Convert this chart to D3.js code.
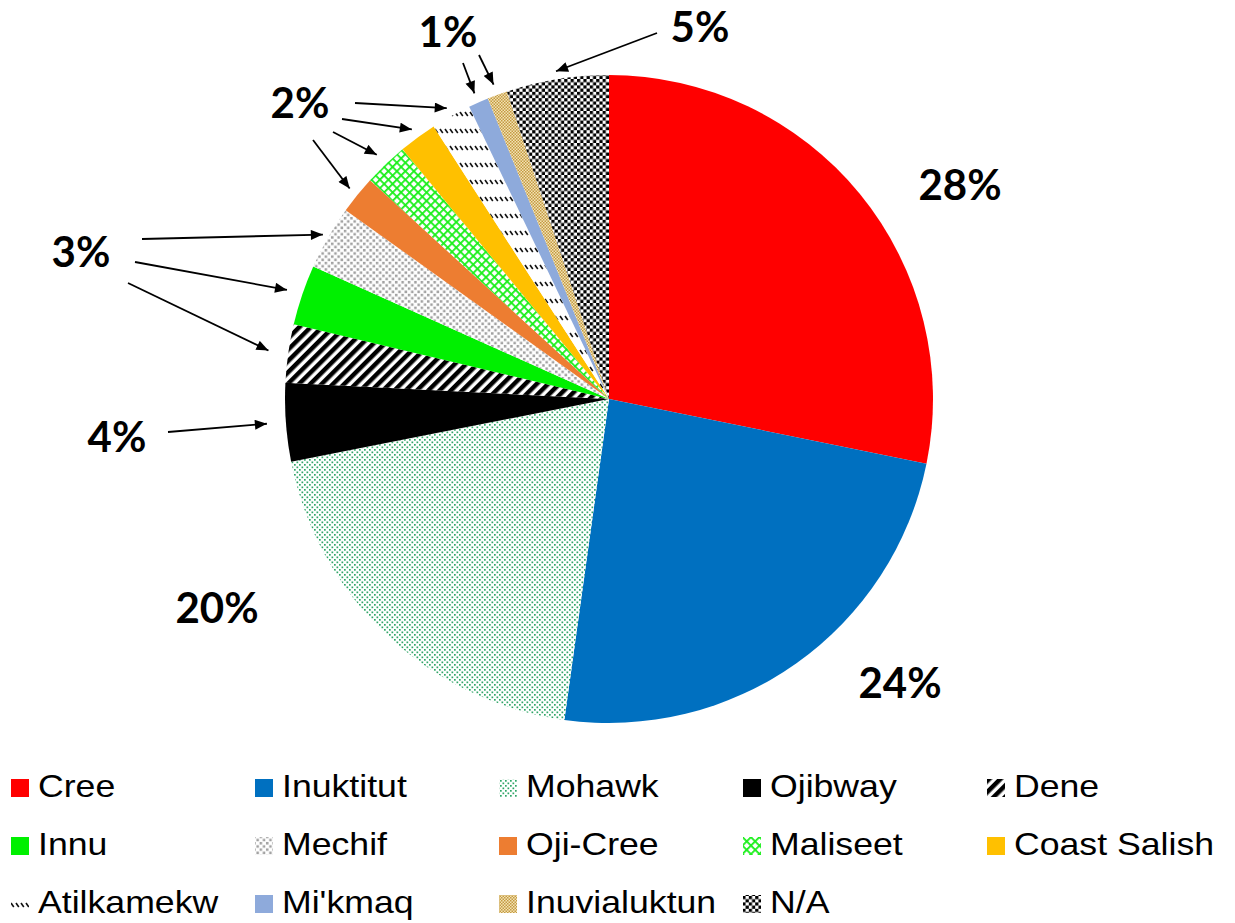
<!DOCTYPE html>
<html>
<head>
<meta charset="utf-8">
<script src="https://cdn.jsdelivr.net/npm/d3@7"></script>
<style>
  html, body { margin: 0; padding: 0; background: #fff; }
  svg { display: block; }
</style>
</head>
<body>
<div id="chart"></div>
<script>
// ---------- data ----------
const categories = ["Cree", "Inuktitut", "Mohawk", "Ojibway", "Dene", "Innu", "Mechif",
  "Oji-Cree", "Maliseet", "Coast Salish", "Atilkamekw", "Mi'kmaq", "Inuvialuktun", "N/A"];
const values = [28.2, 24.0, 19.7, 3.9, 2.9, 3.0, 3.2, 1.9, 2.2, 1.9, 2.0, 1.0, 1.0, 5.1];
const fills = ["#ff0000", "#0070c0", "url(#pMohawk)", "#000000", "url(#pDene)", "#00f000",
  "url(#pMechif)", "#ed7d31", "url(#pMaliseet)", "#ffc000", "url(#pAtil)", "#8eaadb",
  "url(#pInuv)", "url(#pNA)"];
const percentLabels = ["28%", "24%", "20%", "4%", "3%", "2%", "1%", "5%"];

// ---------- layout ----------
const W = 1235, H = 923;
const cx = 609, cy = 399, R = 324;

const svg = d3.select("#chart").append("svg").attr("width", W).attr("height", H);
const defs = svg.append("defs");

// patterns
function pat(id, w, h, transform) {
  const p = defs.append("pattern").attr("id", id).attr("patternUnits", "userSpaceOnUse")
    .attr("width", w).attr("height", h);
  if (transform) p.attr("patternTransform", transform);
  return p;
}
let p;
p = pat("pMohawk", 5, 5);
p.append("rect").attr("width", 5).attr("height", 5).attr("fill", "#fff");
p.append("rect").attr("x", 0).attr("y", 0).attr("width", 1.7).attr("height", 1.7).attr("fill", "#2ea566");
p.append("rect").attr("x", 2.5).attr("y", 2.5).attr("width", 1.7).attr("height", 1.7).attr("fill", "#2ea566");

p = pat("pDene", 8, 8, "rotate(45)");
p.append("rect").attr("width", 8).attr("height", 8).attr("fill", "#fff");
p.append("rect").attr("width", 4.5).attr("height", 8).attr("fill", "#000");

p = pat("pMechif", 6.4, 6.4);
p.append("rect").attr("width", 6.4).attr("height", 6.4).attr("fill", "#fff");
p.append("rect").attr("x", 0.4).attr("y", 0.4).attr("width", 2.5).attr("height", 2.5).attr("fill", "#a0a0a0");
p.append("rect").attr("x", 3.6).attr("y", 3.6).attr("width", 2.5).attr("height", 2.5).attr("fill", "#a0a0a0");

p = pat("pMaliseet", 6, 6, "rotate(45)");
p.append("rect").attr("width", 6).attr("height", 6).attr("fill", "#1aef1a");
p.append("rect").attr("x", 1.8).attr("y", 1.8).attr("width", 4.2).attr("height", 4.2).attr("fill", "#fff");

p = pat("pAtil", 5, 17);
p.append("rect").attr("width", 5).attr("height", 17).attr("fill", "#fff");
p.append("line").attr("x1", 1).attr("y1", 2).attr("x2", 3.8).attr("y2", 6)
  .attr("stroke", "#111").attr("stroke-width", 1.6);

p = pat("pInuv", 3, 3);
p.append("rect").attr("width", 3).attr("height", 3).attr("fill", "#f3e3b4");
p.append("rect").attr("width", 1.5).attr("height", 1.5).attr("fill", "#c49a42");
p.append("rect").attr("x", 1.5).attr("y", 1.5).attr("width", 1.5).attr("height", 1.5).attr("fill", "#c49a42");

p = pat("pNA", 6.4, 6.4);
p.append("rect").attr("width", 6.4).attr("height", 6.4).attr("fill", "#fff");
p.append("rect").attr("width", 3.2).attr("height", 3.2).attr("fill", "#000");
p.append("rect").attr("x", 3.2).attr("y", 3.2).attr("width", 3.2).attr("height", 3.2).attr("fill", "#000");

// arrow head
defs.append("marker").attr("id", "arrow").attr("markerUnits", "userSpaceOnUse")
  .attr("viewBox", "0 0 12 10").attr("refX", 12).attr("refY", 5)
  .attr("markerWidth", 13).attr("markerHeight", 10).attr("orient", "auto")
  .append("path").attr("d", "M0,0 L12,5 L0,10 Z").attr("fill", "#000");

// ---------- pie ----------
const data = categories.map((c, i) => ({ name: c, value: values[i], fill: fills[i] }));
const pie = d3.pie().value(d => d.value).sort(null);
const arcs = pie(data);
const arc = d3.arc().innerRadius(0).outerRadius(R);

const g = svg.append("g").attr("transform", `translate(${cx},${cy})`);
g.selectAll("path.slice").data(arcs).enter().append("path")
  .attr("class", "slice")
  .attr("d", arc)
  .attr("fill", d => d.data.fill);

// ---------- percentage labels (annotation layout) ----------
const labelPos = [[960, 200], [900, 698], [217, 623], [117, 452], [81, 267], [300, 118], [448, 47], [700, 42]];
svg.selectAll("text.pct").data(percentLabels).enter().append("text")
  .attr("class", "pct")
  .attr("x", (d, i) => labelPos[i][0]).attr("y", (d, i) => labelPos[i][1])
  .attr("text-anchor", "middle")
  .attr("font-family", "Lato, 'Open Sans', sans-serif")
  .attr("font-weight", "bold").attr("font-size", 42).attr("fill", "#000")
  .text(d => d);

// ---------- arrows: start point near label, tip just outside the target slice ----------
const arrows = [
  { from: [142, 239], slice: 6, off: 6 },
  { from: [135, 262], slice: 5, off: 16 },
  { from: [128, 283], slice: 4, off: 20 },
  { from: [168, 432], slice: 3, off: 19 },
  { from: [355, 103], slice: 10, off: 9 },
  { from: [342, 119], slice: 9, off: 10 },
  { from: [333, 132], slice: 8, off: 13 },
  { from: [313, 140], slice: 7, off: 10 },
  { from: [463, 63], slice: 11, off: 10 },
  { from: [479, 55], slice: 12, off: 11 },
  { from: [657, 33], slice: 13, off: 8 }
];
arrows.forEach(a => {
  const tipArc = d3.arc().innerRadius(R + a.off).outerRadius(R + a.off);
  const t = tipArc.centroid(arcs[a.slice]);
  svg.append("line")
    .attr("x1", a.from[0]).attr("y1", a.from[1])
    .attr("x2", cx + t[0]).attr("y2", cy + t[1])
    .attr("stroke", "#000").attr("stroke-width", 1.8)
    .attr("marker-end", "url(#arrow)");
});

// ---------- legend ----------
const colX = [11, 255, 499, 743, 987];
const rowY = [797, 855, 913];
const leg = svg.append("g");
data.forEach((d, i) => {
  const col = i % 5, row = Math.floor(i / 5);
  const x = colX[col], y = rowY[row];
  leg.append("rect").attr("x", x).attr("y", y - 18).attr("width", 18).attr("height", 18)
    .attr("fill", d.fill);
  leg.append("text")
    .attr("transform", `translate(${x + 27},${y}) scale(1.15,1)`)
    .attr("font-family", "'Liberation Sans', Arial, sans-serif")
    .attr("font-size", 31).attr("fill", "#000")
    .text(d.name);
});
</script>
</body>
</html>
